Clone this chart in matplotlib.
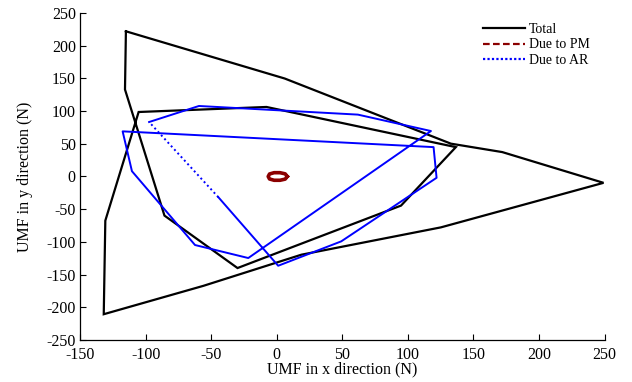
import matplotlib
matplotlib.use("Agg")
import matplotlib.pyplot as plt
from matplotlib.lines import Line2D

# Total UMF trajectory (closed loop)
total_x = [-115.0, -115.7, -85.6, -29.9, 94.8, 136.6, -7.8, -105.3, -130.7, -131.9,
           -55.9, 18.8, 125.2, 249.2, 172.0, 132.8, 6.1, -115.0]
total_y = [222.0, 133.0, -59.8, -140.0, -44.5, 44.9, 106.3, 98.6, -67.5, -210.6,
           -167.2, -119.6, -77.8, -9.7, 37.3, 50.2, 149.8, 222.0]

# Due to PM (small loop around origin)
pm_x = [8.0, 6.5, 2.5, -2.0, -5.5, -6.5, -5.5, -2.0, 2.5, 6.5, 8.0]
pm_y = [0.0, 4.0, 5.8, 5.8, 3.8, 0.0, -3.8, -5.8, -5.8, -4.0, 0.0]

# Due to AR
ar_x = [-97.3, -59.3, 61.9, 117.6, -21.7, -62.3, -110.4, -117.5, 119.6, 121.9,
        49.2, 1.1, -44.5, -97.3]
ar_y = [83.3, 107.8, 94.6, 69.5, -124.7, -104.8, 8.1, 69.0, 44.9, -2.0,
        -99.2, -136.5, -31.7, 83.3]

plt.rcParams['font.family'] = ['Liberation Serif', 'DejaVu Serif']
plt.rcParams['axes.unicode_minus'] = False

fig = plt.figure(figsize=(6.32, 3.82), dpi=100)
ax = fig.add_axes([0.1266, 0.110, 0.830, 0.856])

ax.plot(total_x, total_y, color='black', lw=1.6, solid_joinstyle='miter')
ax.plot(pm_x, pm_y, color='#8b0000', lw=2.6)
# AR: drawn solid except the last (sparse) segment which shows dotted
ax.plot(ar_x[:-1], ar_y[:-1], color='#0000ff', lw=1.4)
ax.plot(ar_x[-2:], ar_y[-2:], color='#0000ff', lw=1.4, ls=(0, (1, 1.5)))

ax.set_xlim(-150, 250)
ax.set_ylim(-250, 250)
ax.set_xticks(range(-150, 251, 50))
ax.set_yticks(range(-250, 251, 50))
ax.tick_params(direction='in', length=4, width=0.8, labelsize=11.5)
ax.tick_params(axis='x', pad=5)
ax.tick_params(axis='y', pad=3)
for s in ['top', 'right']:
    ax.spines[s].set_visible(False)
for s in ['left', 'bottom']:
    ax.spines[s].set_linewidth(0.9)

ax.set_xlabel('UMF in x direction (N)', fontsize=11.5, labelpad=-1)
ax.set_ylabel('UMF in y direction (N)', fontsize=11.5, labelpad=10)

handles = [Line2D([], [], color='black', lw=1.6),
           Line2D([], [], color='#8b0000', lw=1.6, ls=(0, (3, 1.5))),
           Line2D([], [], color='#0000ff', lw=1.6, ls=(0, (1, 1)))]
ax.legend(handles, ['Total', 'Due to PM', 'Due to AR'], loc='upper right',
          bbox_to_anchor=(0.99, 1.0), frameon=False, fontsize=10,
          handlelength=3.0, handletextpad=0.3, labelspacing=0.2,
          borderaxespad=0.3)

fig.savefig('out.png', dpi=100)
